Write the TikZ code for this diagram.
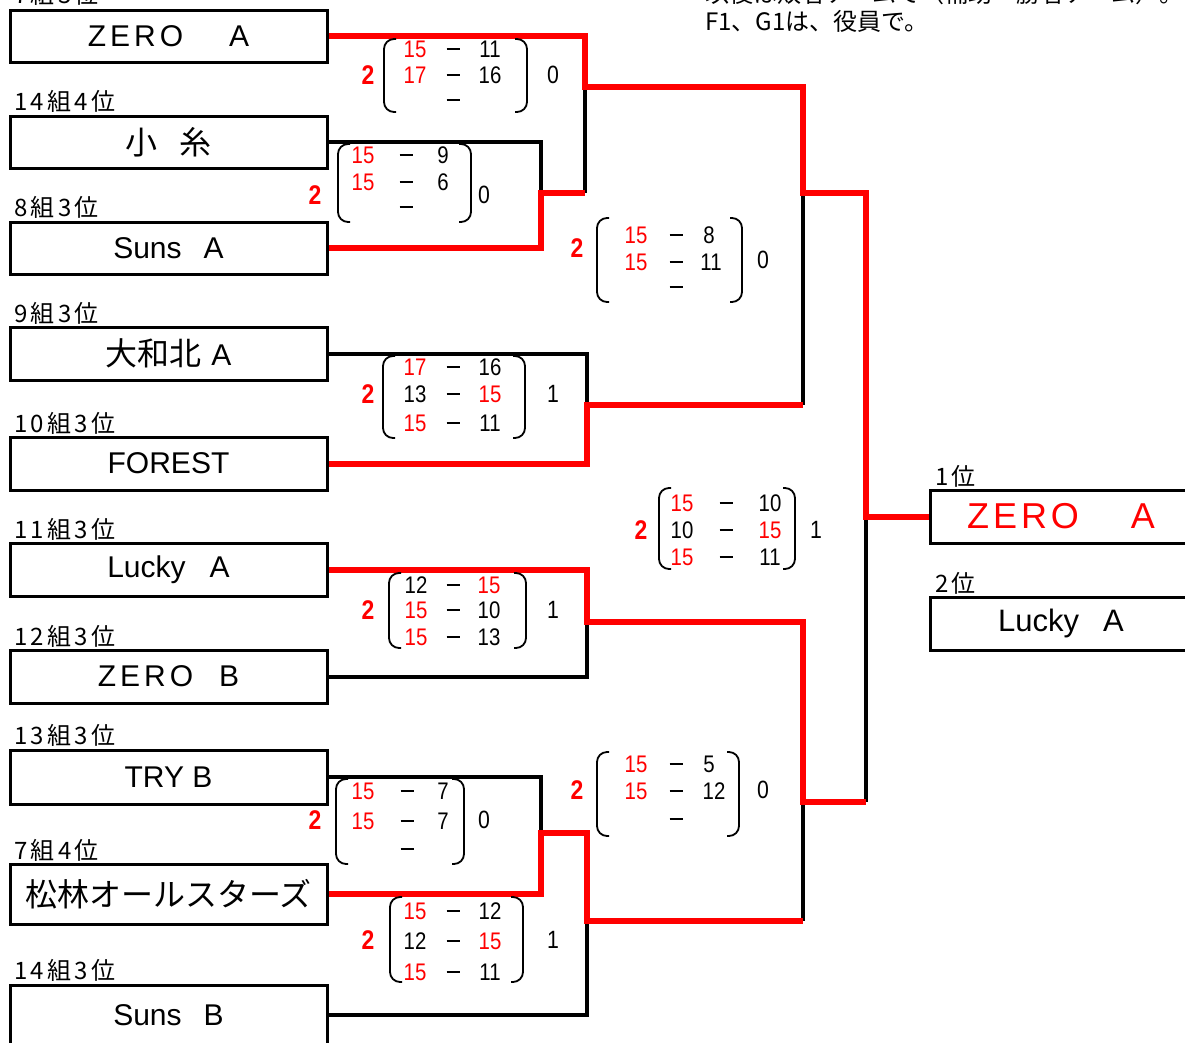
\documentclass[tikz,border=0pt]{standalone}
\usepackage{fontspec}
\setmainfont{Liberation Sans}
\newfontfamily\jp{Noto Sans CJK JP}
\newfontfamily\jpl[LetterSpace=14]{Noto Sans CJK JP}
\newfontfamily\numf[FakeStretch=0.85]{Liberation Sans}
\definecolor{wred}{RGB}{255,0,0}
\newcommand\R[1]{\textcolor{wred}{#1}}
\newcommand\zero{Z\kern4pt E\kern4pt R\kern4pt O}
\newcommand\srow[7]{%
  \node[sc] (#1l) at (#3,#2) {#6};
  \node[inner sep=0pt] (#1d) at (#4,#2) {\rule{13pt}{1.7pt}};
  \node[sc] (#1r) at (#5,#2) {#7};}
\newcommand\parens[4]{%
  \draw[pr] (#1+12,#3) -- (#1,#3) -- (#1,#4) -- (#1+12,#4);
  \draw[pr] (#2-12,#3) -- (#2,#3) -- (#2,#4) -- (#2-12,#4);}
\tikzset{
  team/.style={draw, line width=3pt, minimum width=317pt, inner sep=0pt, font=\fontsize{30}{36}\selectfont},
  jteam/.style={team, font=\jp\fontsize{32}{36}\selectfont},
  lab/.style={anchor=west, inner sep=0pt, font=\jpl\fontsize{24}{28}\selectfont},
  note/.style={anchor=west, inner sep=0pt, font=\jp\fontsize{24}{28}\selectfont},
  rd/.style={draw=wred, line width=6pt},
  bk/.style={draw=black, line width=4pt},
  pr/.style={draw=black, line width=1.8pt, rounded corners=10pt},
  sc/.style={inner sep=0pt, font=\numf\fontsize{24}{26}\selectfont},
  two/.style={inner sep=0pt, text=wred, font=\numf\bfseries\fontsize{27}{30}\selectfont},
  lose/.style={inner sep=0pt, font=\numf\fontsize{25}{28}\selectfont},
}
\begin{document}
\begin{tikzpicture}[x=1pt,y=-1pt]
\useasboundingbox (0,0) rectangle (1185,1042);
\clip (0,0) rectangle (1185,1042);
% notes
\node[note] (n1) at (705,-7) {以後は敗者チームで（補助・勝者チーム）。};
\node[note] (n2) at (705,21) {F1、G1は、役員で。};
% labels
\node[lab] (l1) at (14,-6) {7組3位};
\node[lab] (l2) at (14,101) {14組4位};
\node[lab] (l3) at (14,207) {8組3位};
\node[lab] (l4) at (14,313) {9組3位};
\node[lab] (l5) at (14,423) {10組3位};
\node[lab] (l6) at (14,529) {11組3位};
\node[lab] (l7) at (14,636) {12組3位};
\node[lab] (l8) at (14,735) {13組3位};
\node[lab] (l9) at (14,850) {7組4位};
\node[lab] (l10) at (14,970) {14組3位};
\node[lab] (l11) at (935,476) {1位};
\node[lab] (l12) at (935,583) {2位};
% teams
\node[team, minimum height=52pt] (t1) at (168.5,36) {\zero\hspace{46pt}A};
\node[jteam, minimum height=52pt] (t2) at (168.5,142) {小\hspace{22pt}糸};
\node[team, minimum height=52pt] (t3) at (168.5,248) {Suns\hspace{22pt}A};
\node[team, minimum height=53pt] (t4) at (168.5,353.5) {{\jp\fontsize{32}{36}\selectfont 大和北}\hspace{10pt}A};
\node[team, minimum height=53pt] (t5) at (168.5,463.5) {FOREST};
\node[team, minimum height=53pt] (t6) at (168.5,570) {Lucky\hspace{24pt}A};
\node[team, minimum height=53pt] (t7) at (168.5,676.5) {\zero\hspace{26pt}B};
\node[team, minimum height=54pt] (t8) at (168.5,777) {TRY B};
\node[jteam, minimum height=60pt] (t9) at (168.5,894) {松林オールスターズ};
\node[team, minimum height=60pt] (t10) at (168.5,1015) {Suns\hspace{22pt}B};
% result boxes
\node[team, minimum width=262pt, minimum height=53pt, text=wred, font=\fontsize{36}{40}\selectfont] (w1) at (1061,516.5) {\zero\hspace{52pt}A};
\node[team, minimum width=262pt, minimum height=53pt, font=\fontsize{31}{36}\selectfont] (w2) at (1061,623.5) {Lucky\hspace{24pt}A};
% junctions
\coordinate (m1) at (541,193);
\coordinate (s1) at (585,193);
\coordinate (j1) at (585,87);
\coordinate (k1) at (803,193);
\coordinate (j2) at (587,405);
\coordinate (q2) at (803,405);
\coordinate (f1) at (866,193);
\coordinate (fin) at (866,516.5);
\coordinate (j3) at (587,622);
\coordinate (k2) at (803,802);
\coordinate (f2) at (866,802);
\coordinate (m2) at (541,833);
\coordinate (s2) at (587,833);
\coordinate (j4) at (587,921);
\coordinate (q4) at (803,921);
% black connectors
\draw[bk] (t2.east) -| (m1);
\draw[bk] (s1) -- (j1);
\draw[bk] (t4.east) -| (j2);
\draw[bk] (q2) -- (k1);
\draw[bk] (t7.east) -| (j3);
\draw[bk] (f2) -- (fin);
\draw[bk] (t8.east) -| (m2);
\draw[bk] (t10.east) -| (j4);
\draw[bk] (q4) -- (k2);
% red connectors
\draw[rd] (t3.east) -| (m1) -- (s1);
\draw[rd] (t1.east) -| (j1) -| (k1) -- (f1) -- (fin) -- (w1.west);
\draw[rd] (t5.east) -| (j2) -- (q2);
\draw[rd] (t6.east) -| (j3) -| (k2) -- (f2);
\draw[rd] (t9.east) -| (m2) -- (s2) -- (j4) -- (q4);
% score A
\node[two] (Atwo) at (368,75) {2};
\parens{384}{527}{39}{112}
\srow{A1}{49}{415}{453}{490}{\R{15}}{11}
\srow{A2}{75}{415}{453}{490}{\R{17}}{16}
\srow{A3}{100}{415}{453}{490}{}{}
\node[lose] (Alose) at (553,75) {0};
% score B
\node[two] (Btwo) at (315,195) {2};
\parens{338}{471}{144}{222}
\srow{B1}{155}{363}{406}{443}{\R{15}}{9}
\srow{B2}{182}{363}{406}{443}{\R{15}}{6}
\srow{B3}{207}{363}{406}{443}{}{}
\node[lose] (Blose) at (484,195) {0};
% score C
\node[two] (Ctwo) at (577,248) {2};
\parens{597}{742}{218}{302}
\srow{C1}{235}{636}{676}{709}{\R{15}}{8}
\srow{C2}{262}{636}{676}{711}{\R{15}}{11}
\srow{C3}{287}{636}{676}{711}{}{}
\node[lose] (Close) at (763,260) {0};
% score D
\node[two] (Dtwo) at (368,394) {2};
\parens{383}{525}{356}{438}
\srow{D1}{367}{415}{453}{490}{\R{17}}{16}
\srow{D2}{394}{415}{453}{490}{13}{\R{15}}
\srow{D3}{423}{415}{453}{490}{\R{15}}{11}
\node[lose] (Dlose) at (553,394) {1};
% score E (final)
\node[two] (Etwo) at (641,530) {2};
\parens{659}{795}{488}{569}
\srow{E1}{503}{682}{726}{770}{\R{15}}{10}
\srow{E2}{530}{682}{726}{770}{10}{\R{15}}
\srow{E3}{557}{682}{726}{770}{\R{15}}{11}
\node[lose] (Elose) at (816,530) {1};
% score F
\node[two] (Ftwo) at (368,610) {2};
\parens{389}{526}{573}{648}
\srow{F1}{585}{416}{453}{489}{12}{\R{15}}
\srow{F2}{610}{416}{453}{489}{\R{15}}{10}
\srow{F3}{637}{416}{453}{489}{\R{15}}{13}
\node[lose] (Flose) at (553,610) {1};
% score G
\node[two] (Gtwo) at (577,790) {2};
\parens{597}{739}{752}{836}
\srow{G1}{764}{636}{676}{709}{\R{15}}{5}
\srow{G2}{791}{636}{676}{714}{\R{15}}{12}
\srow{G3}{819}{636}{676}{714}{}{}
\node[lose] (Glose) at (763,790) {0};
% score H
\node[two] (Htwo) at (315,820) {2};
\parens{336}{464}{779}{864}
\srow{H1}{791}{363}{407}{443}{\R{15}}{7}
\srow{H2}{821}{363}{407}{443}{\R{15}}{7}
\srow{H3}{849}{363}{407}{443}{}{}
\node[lose] (Hlose) at (484,820) {0};
% score I
\node[two] (Itwo) at (368,940) {2};
\parens{390}{523}{897}{982}
\srow{I1}{911}{415}{453}{490}{\R{15}}{12}
\srow{I2}{941}{415}{453}{490}{12}{\R{15}}
\srow{I3}{972}{415}{453}{490}{\R{15}}{11}
\node[lose] (Ilose) at (553,940) {1};
\end{tikzpicture}
\end{document}
